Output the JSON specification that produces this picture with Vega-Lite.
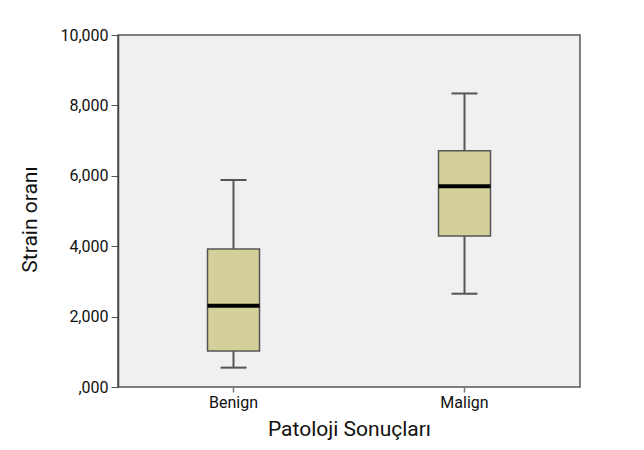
{
  "$schema": "https://vega.github.io/schema/vega-lite/v6.json",
  "width": 462,
  "height": 352,
  "autosize": "none",
  "padding": {"left": 118, "top": 35, "right": 64, "bottom": 63},
  "background": "white",
  "config": {
    "font": "Roboto",
    "view": {"fill": "#f0f0f0", "stroke": "#555555", "strokeWidth": 1.5},
    "axis": {"labelColor": "#111111", "titleColor": "#111111", "labelFontSize": 16, "titleFontSize": 21, "titleFontWeight": "normal", "grid": false, "labelFont": "Roboto", "titleFont": "Roboto"}
  },
  "data": {
    "values": [
      {"group": "Benign", "min": 0.55, "q1": 1.02, "median": 2.31, "q3": 3.92, "max": 5.88},
      {"group": "Malign", "min": 2.65, "q1": 4.29, "median": 5.70, "q3": 6.71, "max": 8.34}
    ]
  },
  "encoding": {
    "x": {
      "field": "group",
      "type": "nominal",
      "title": "Patoloji Sonuçları",
      "scale": {"paddingInner": 0, "paddingOuter": 0},
      "axis": {"labelAngle": 0, "domain": false, "tickSize": 5, "tickColor": "#777777", "tickWidth": 1.5, "labelPadding": 2, "titlePadding": 8, "labelFontSize": 16}
    }
  },
  "layer": [
    {
      "mark": {"type": "rule", "stroke": "#555555", "strokeWidth": 2},
      "encoding": {
        "y": {
          "field": "min",
          "type": "quantitative",
          "title": "Strain oranı",
          "scale": {"domain": [0, 10], "nice": false},
          "axis": {
            "values": [0, 2, 4, 6, 8, 10],
            "labelExpr": "datum.value == 0 ? ',000' : replace(format(datum.value, '.3f'), '.', ',')",
            "tickSize": 7,
            "tickColor": "#555555",
            "domainColor": "#444444",
            "domainWidth": 1.5,
            "labelPadding": 3,
            "titlePadding": 19,
            "titleY": 184
          }
        },
        "y2": {"field": "max"}
      }
    },
    {
      "mark": {"type": "bar", "width": 52, "fill": "#d4d099", "stroke": "#555555", "strokeWidth": 1.5},
      "encoding": {
        "y": {"field": "q1", "type": "quantitative", "title": "Strain oranı"},
        "y2": {"field": "q3"}
      }
    },
    {
      "mark": {"type": "tick", "color": "#000000", "thickness": 4, "size": 52, "opacity": 1},
      "encoding": {"y": {"field": "median", "type": "quantitative", "title": "Strain oranı"}}
    },
    {
      "mark": {"type": "tick", "color": "#555555", "thickness": 2, "size": 26, "opacity": 1},
      "encoding": {"y": {"field": "min", "type": "quantitative", "title": "Strain oranı"}}
    },
    {
      "mark": {"type": "tick", "color": "#555555", "thickness": 2, "size": 26, "opacity": 1},
      "encoding": {"y": {"field": "max", "type": "quantitative", "title": "Strain oranı"}}
    }
  ]
}
